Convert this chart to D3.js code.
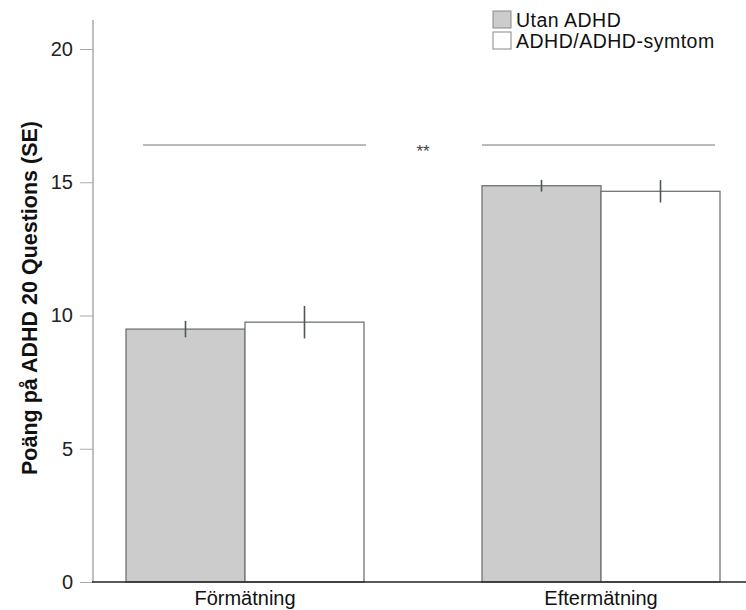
<!DOCTYPE html>
<html><head><meta charset="utf-8">
<script src="https://cdn.jsdelivr.net/npm/d3@7"></script>
<style>body{margin:0;background:#fff}text{font-family:"Liberation Sans",Arial,sans-serif}</style>
</head><body>
<svg id="c" width="746" height="610"></svg>
<script>
const categories = ["Förmätning", "Eftermätning"];
const seriesNames = ["Utan ADHD", "ADHD/ADHD-symtom"];
const utanADHD = [9.49, 14.87];
const utanADHDse = [0.31, 0.22];
const adhd = [9.75, 14.66];
const adhdSe = [0.61, 0.42];
const yTicks = [0, 5, 10, 15, 20];
const yLabel = "Poäng på ADHD 20 Questions (SE)";
const sigLabel = "**";

const svg = d3.select("#c");
const fills = ["#cccccc", "#ffffff"];
const y = d3.scaleLinear().domain([0, 20]).range([582, 49]);

const gx = d3.scaleBand().domain(categories).range([126, 720]).paddingInner(0.3315).paddingOuter(0);
const sub = d3.scaleBand().domain(seriesNames).range([0, gx.bandwidth()]);

const data = categories.map((c, i) => ({c, vals: [
  {s: seriesNames[0], v: utanADHD[i], e: utanADHDse[i]},
  {s: seriesNames[1], v: adhd[i], e: adhdSe[i]}]}));

const g = svg.append("g");
const grp = g.selectAll("g.grp").data(data).join("g")
  .attr("transform", d => `translate(${gx(d.c)},0)`);
grp.selectAll("rect").data(d => d.vals).join("rect")
  .attr("x", d => sub(d.s)).attr("width", sub.bandwidth())
  .attr("y", d => y(d.v)).attr("height", d => y(0) - y(d.v))
  .attr("fill", (d, i) => fills[i]).attr("stroke", "#6e7573").attr("stroke-width", 1.3);
grp.selectAll("line.err").data(d => d.vals).join("line")
  .attr("x1", d => sub(d.s) + sub.bandwidth() / 2).attr("x2", d => sub(d.s) + sub.bandwidth() / 2)
  .attr("y1", d => y(d.v + d.e)).attr("y2", d => y(d.v - d.e))
  .attr("stroke", "#4f5856").attr("stroke-width", 1.6);

// Y axis
const yAxis = svg.append("g").attr("transform", "translate(93,0)")
  .call(d3.axisLeft(y).tickValues(yTicks).tickSize(13).tickPadding(7));
yAxis.select(".domain").remove();
yAxis.selectAll(".tick line").attr("stroke", "#aaa");
yAxis.selectAll(".tick text").attr("font-size", 20).attr("fill", "#222");
svg.append("line").attr("x1", 93).attr("x2", 93).attr("y1", 20).attr("y2", y(0))
  .attr("stroke", "#aaa").attr("stroke-width", 1.5);

// X axis
const xAxis = svg.append("g").attr("transform", `translate(0,${y(0)})`)
  .call(d3.axisBottom(gx).tickSize(0).tickPadding(9));
xAxis.select(".domain").remove();
xAxis.selectAll(".tick text").attr("font-size", 20).attr("fill", "#111");
svg.append("line").attr("x1", 92).attr("x2", 746).attr("y1", y(0)).attr("y2", y(0))
  .attr("stroke", "#222").attr("stroke-width", 1.5);

// y label
svg.append("text").attr("transform", `translate(37,${298}) rotate(-90)`)
  .attr("text-anchor", "middle").attr("font-weight", "bold").attr("font-size", 21.5)
  .attr("fill", "#111").text(yLabel);

// significance
const sigY = 145;
svg.append("line").attr("x1", 143).attr("x2", 366).attr("y1", sigY).attr("y2", sigY).attr("stroke", "#777").attr("stroke-width", 1.2);
svg.append("line").attr("x1", 482).attr("x2", 715).attr("y1", sigY).attr("y2", sigY).attr("stroke", "#777").attr("stroke-width", 1.2);
svg.append("text").attr("x", 423).attr("y", 157).attr("text-anchor", "middle")
  .attr("font-size", 17).attr("fill", "#444").text(sigLabel);

// legend
const lg = svg.append("g");
seriesNames.forEach((s, i) => {
  lg.append("rect").attr("x", 493).attr("y", 11 + i * 21).attr("width", 18).attr("height", 17)
    .attr("fill", fills[i]).attr("stroke", "#888").attr("stroke-width", 1);
  lg.append("text").attr("x", 516).attr("y", 27 + i * 21).attr("font-size", 19.5)
    .attr("letter-spacing", 0.5).attr("fill", "#111").text(s);
});
</script>
</body></html>
